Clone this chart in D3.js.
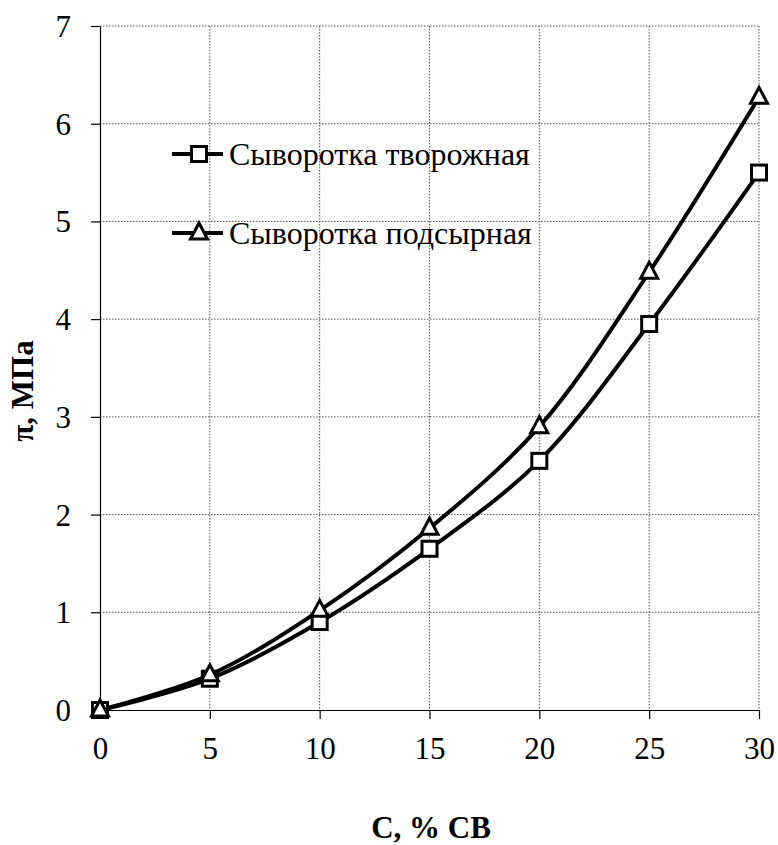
<!DOCTYPE html>
<html>
<head>
<meta charset="utf-8">
<script src="https://cdn.jsdelivr.net/npm/d3@7"></script>
<style>
  body { margin: 0; background: #fff; }
</style>
</head>
<body>
<svg id="chart"></svg>
<script>
// concentration, % dry matter
const concentration = [0, 5, 10, 15, 20, 25, 30];
// osmotic pressure, MPa
const tvorozhnaya = [0, 0.32, 0.9, 1.65, 2.55, 3.95, 5.5];
const podsyrnaya = [0, 0.36, 1.02, 1.86, 2.9, 4.48, 6.27];
const seriesNames = ["Сыворотка творожная", "Сыворотка подсырная"];
const xTicks = [0, 5, 10, 15, 20, 25, 30];
const yTicks = [0, 1, 2, 3, 4, 5, 6, 7];

const FONT = "'Liberation Serif', 'Times New Roman', serif";
const width = 778, height = 845;
const margin = { top: 26, right: 19, bottom: 135, left: 100 };
const innerW = width - margin.left - margin.right;
const innerH = height - margin.top - margin.bottom;

const svg = d3.select("#chart").attr("width", width).attr("height", height)
  .attr("font-family", FONT);
const g = svg.append("g").attr("transform", `translate(${margin.left},${margin.top})`);

const x = d3.scaleLinear().domain([0, 30]).range([0, innerW]);
const y = d3.scaleLinear().domain([0, 7]).range([innerH, 0]);

// dotted grid
g.selectAll(".hgrid").data(yTicks.slice(1)).join("line")
  .attr("x1", 0).attr("x2", innerW)
  .attr("y1", d => y(d)).attr("y2", d => y(d))
  .attr("stroke", "#555").attr("stroke-width", 1).attr("stroke-dasharray", "1.5,1.5");
g.selectAll(".vgrid").data(xTicks.slice(1)).join("line")
  .attr("x1", d => x(d)).attr("x2", d => x(d))
  .attr("y1", 0).attr("y2", innerH)
  .attr("stroke", "#555").attr("stroke-width", 1).attr("stroke-dasharray", "1.5,1.5");

// axes
const xAxis = g.append("g").attr("transform", `translate(0,${innerH})`)
  .call(d3.axisBottom(x).tickValues(xTicks).tickFormat(d3.format("d"))
    .tickSize(9).tickSizeOuter(0).tickPadding(18));
const yAxis = g.append("g")
  .call(d3.axisLeft(y).tickValues(yTicks).tickFormat(d3.format("d"))
    .tickSize(9).tickSizeOuter(0).tickPadding(20));
[xAxis, yAxis].forEach(a => {
  a.attr("font-family", FONT).attr("font-size", 31);
  a.select(".domain").attr("stroke", "#000").attr("stroke-width", 1.2);
  a.selectAll(".tick line").attr("stroke", "#000").attr("stroke-width", 1.2);
  a.selectAll(".tick text").attr("fill", "#000");
});
yAxis.selectAll(".tick text").attr("dy", "0.34em");

// lines
const line = d3.line()
  .x(d => x(d[0])).y(d => y(d[1]))
  .curve(d3.curveCatmullRom.alpha(0.5));

const data = [
  concentration.map((c, i) => [c, tvorozhnaya[i]]),
  concentration.map((c, i) => [c, podsyrnaya[i]])
];

g.selectAll(".series").data(data).join("path")
  .attr("d", line).attr("fill", "none")
  .attr("stroke", "#000").attr("stroke-width", 4).attr("stroke-linejoin", "round");

const sq = 15;
function square(sel) {
  sel.append("rect").attr("x", -sq / 2).attr("y", -sq / 2).attr("width", sq).attr("height", sq)
    .attr("fill", "#fff").attr("stroke", "#000").attr("stroke-width", 3);
}
const triPath = "M0,-9L8.5,7L-8.5,7Z";
function triangle(sel) {
  sel.append("path").attr("d", triPath)
    .attr("fill", "#fff").attr("stroke", "#000").attr("stroke-width", 3).attr("stroke-linejoin", "miter");
}

g.selectAll(".sq").data(data[0]).join("g")
  .attr("transform", d => `translate(${x(d[0])},${y(d[1])})`).call(square);
g.selectAll(".tri").data(data[1]).join("g")
  .attr("transform", d => `translate(${x(d[0])},${y(d[1]) - 1})`).call(triangle);

// legend
const legend = svg.append("g");
const legY = [154, 233];
legend.selectAll(".ll").data(seriesNames).join("line")
  .attr("x1", 172).attr("x2", 223)
  .attr("y1", (d, i) => legY[i]).attr("y2", (d, i) => legY[i])
  .attr("stroke", "#000").attr("stroke-width", 4);
legend.append("g").attr("transform", `translate(199,${legY[0]})`).call(square);
legend.append("g").attr("transform", `translate(199,${legY[1] - 1})`).call(triangle);
legend.selectAll(".lt").data(seriesNames).join("text")
  .attr("x", 229).attr("y", (d, i) => legY[i]).attr("dy", "0.34em")
  .attr("font-size", 32).attr("fill", "#000").text(d => d);

// axis titles
svg.append("text")
  .attr("x", 431).attr("y", 838)
  .attr("text-anchor", "middle").attr("font-size", 31).attr("font-weight", "bold")
  .text("С, % СВ");
svg.append("text")
  .attr("transform", `translate(33,391) rotate(-90)`)
  .attr("text-anchor", "middle").attr("font-size", 31).attr("font-weight", "bold")
  .text("π, МПа");
</script>
</body>
</html>
